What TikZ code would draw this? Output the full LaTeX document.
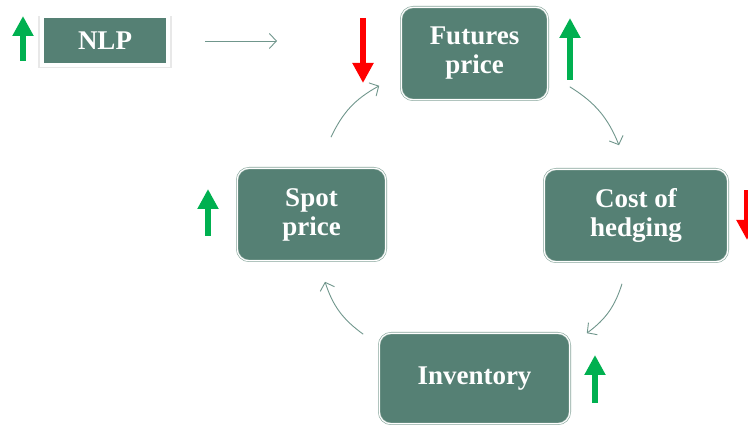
\documentclass[tikz,border=0pt]{standalone}
\usepackage{fontspec}
\setmainfont{Liberation Serif}
\usepackage{xcolor}
\usepackage{tikz}
\usetikzlibrary{arrows.meta,shadows}

\definecolor{boxfill}{RGB}{85,128,116}
\definecolor{boxedge}{RGB}{135,165,155}
\definecolor{flowline}{RGB}{112,150,140}
\definecolor{upgreen}{RGB}{0,176,80}
\definecolor{downred}{RGB}{255,0,0}

\tikzset{
  boxtext/.style={text=white, font=\fontsize{27}{29}\selectfont\bfseries, align=center, inner sep=0pt, outer sep=0pt},
  cyclebox/.style={boxtext, rounded corners=12pt, fill=boxfill, draw=boxedge, double=white, double distance=1.2pt, line width=0.6pt},
  nlpbox/.style={boxtext, fill=boxfill, draw=white, line width=4pt, minimum width=126pt, minimum height=49pt,
    drop shadow={shadow xshift=0pt, shadow yshift=-1pt, shadow scale=1.06, opacity=0.18, fill=gray}},
  flow/.style={draw=flowline, line width=0.9pt, -{Straight Barb[length=7pt,width=15pt]}, bend left=18},
  upmark/.style={draw=upgreen, line width=6pt, -{Triangle[length=20pt,width=20pt]}},
  downmark/.style={draw=downred, line width=6pt, -{Triangle[length=20pt,width=20pt]}}
}

\begin{document}
\begin{tikzpicture}[x=1pt,y=-1pt]
\useasboundingbox (0,0) rectangle (748,427);
\clip (0,0) rectangle (748,427);
% boxes
\node[nlpbox] (nlp) at (105,41) {NLP};
\node[cyclebox, minimum width=146.6pt, minimum height=92.6pt] (fut) at (474.5,53.5) {Futures\\price};
\node[cyclebox, minimum width=183.6pt, minimum height=92.6pt] (cost) at (636,215.5) {Cost of\\hedging};
\node[cyclebox, minimum width=148.6pt, minimum height=92.6pt] (spot) at (311.5,214.5) {Spot\\price};
\node[cyclebox, minimum width=190.6pt, minimum height=90.6pt] (inv) at (474.5,378.5) {Inventory};

% connectors
\coordinate (nlptip) at ([xshift=109pt]nlp.east);
\draw[flow] ([xshift=37pt]nlp.east) -- (nlptip);
\draw[flow] ([shift={(19.5,-31)}]spot.north) to ([shift={(-22,-14)}]fut.south west);
\draw[flow] ([shift={(22,-13)}]fut.south east) to ([shift={(-17,-24)}]cost.north);
\draw[flow] ([shift={(-14,22)}]cost.south) to ([shift={(17,0)}]inv.north east);
\draw[flow] ([shift={(-16,1)}]inv.north west) to ([shift={(13.5,21)}]spot.south);

% up and down marks
\draw[upmark] (23,61) -- (23,16);
\draw[downmark] (363,18) -- (363,83);
\draw[upmark] (570,80) -- (570,18);
\draw[downmark] (747,190) -- (747,240);
\draw[upmark] (208,236) -- (208,189);
\draw[upmark] (595,403) -- (595,355);
\end{tikzpicture}
\end{document}
